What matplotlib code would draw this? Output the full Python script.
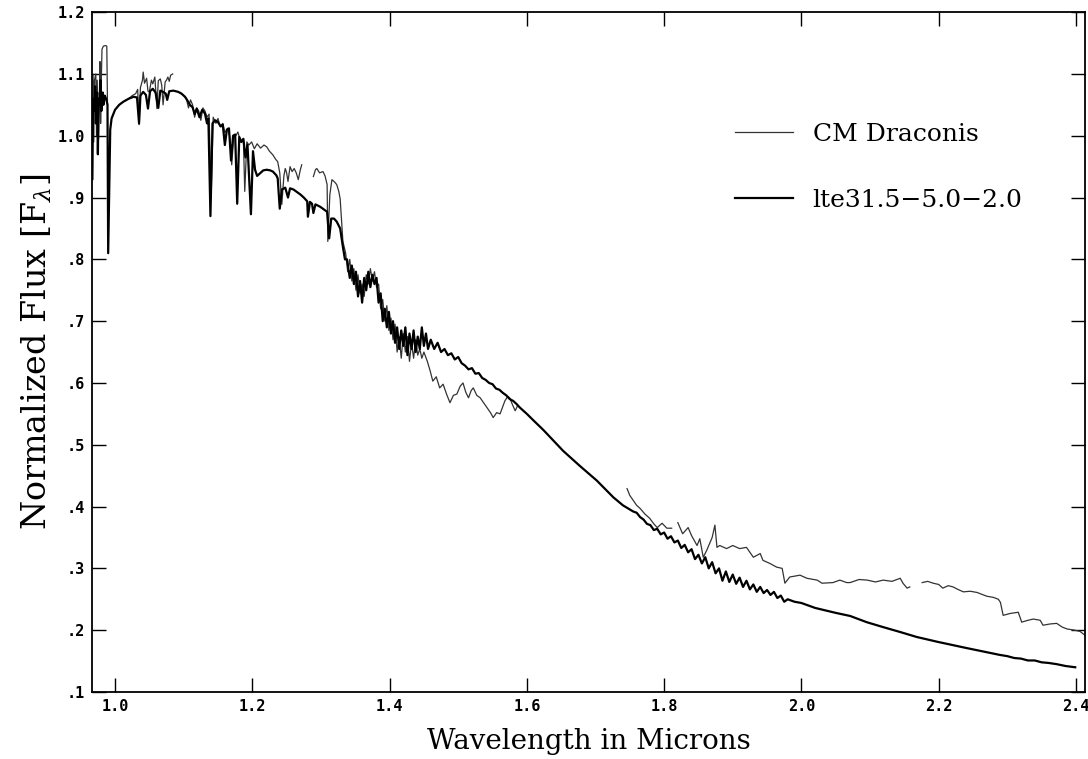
import numpy as np
import matplotlib
matplotlib.use('Agg')
import matplotlib.pyplot as plt

# model spectrum lte31.5-5.0-2.0 (continuous)
model_wl = [0.967, 0.968, 0.970, 0.971, 0.972, 0.974, 0.975, 0.976, 0.978, 0.979, 0.980, 0.982, 0.983, 0.985,
            0.987, 0.989, 0.990, 0.993, 0.995, 1.000, 1.006, 1.012, 1.020, 1.027, 1.032, 1.035, 1.037, 1.041,
            1.045, 1.048, 1.051, 1.055, 1.059, 1.063, 1.066, 1.070, 1.074, 1.076, 1.079, 1.085, 1.092, 1.097,
            1.102, 1.106, 1.109, 1.113, 1.116, 1.119, 1.123, 1.127, 1.131, 1.134, 1.136, 1.139, 1.142, 1.146,
            1.150, 1.154, 1.157, 1.160, 1.163, 1.166, 1.169, 1.172, 1.175, 1.178, 1.181, 1.184, 1.187, 1.190,
            1.193, 1.198, 1.201, 1.204, 1.207, 1.211, 1.216, 1.221, 1.226, 1.230, 1.235, 1.237, 1.240, 1.243,
            1.248, 1.252, 1.255, 1.260, 1.265, 1.270, 1.275, 1.280, 1.281, 1.284, 1.287, 1.289, 1.292, 1.299,
            1.304, 1.309, 1.312, 1.315, 1.319, 1.323, 1.328, 1.332, 1.335,
            1.338, 1.342, 1.345, 1.348, 1.351, 1.354, 1.357, 1.360, 1.363, 1.366, 1.369, 1.372, 1.375, 1.378,
            1.381, 1.384, 1.387, 1.390, 1.393, 1.396, 1.399, 1.402, 1.405, 1.408, 1.411, 1.414, 1.417, 1.420,
            1.423, 1.426, 1.429, 1.432, 1.435, 1.438, 1.441, 1.444, 1.447, 1.450, 1.453, 1.456, 1.460, 1.465,
            1.470, 1.475, 1.480, 1.485, 1.490, 1.495, 1.500, 1.505, 1.510, 1.515, 1.520, 1.525, 1.530, 1.535,
            1.540, 1.545, 1.550, 1.555, 1.560, 1.565, 1.570, 1.575, 1.580, 1.585, 1.590, 1.600, 1.610, 1.624,
            1.653, 1.677, 1.702, 1.726, 1.740, 1.755,
            1.760, 1.765, 1.770, 1.775, 1.780, 1.785, 1.790, 1.795, 1.800, 1.805, 1.810, 1.815, 1.820, 1.825,
            1.830, 1.835, 1.840, 1.845, 1.850, 1.855, 1.860, 1.865, 1.870, 1.875, 1.880, 1.885, 1.890, 1.895,
            1.900, 1.905, 1.910, 1.915, 1.920, 1.925, 1.930, 1.935, 1.940, 1.945, 1.950, 1.955, 1.960, 1.965,
            1.970, 1.975, 1.980, 1.990, 2.000, 2.010, 2.020, 2.035, 2.050, 2.071, 2.095, 2.119, 2.144, 2.168,
            2.199, 2.241, 2.289, 2.300, 2.310, 2.320, 2.330, 2.340, 2.350, 2.360, 2.372, 2.385, 2.399]
model_flux = [0.93, 1.06, 1.04, 1.08, 1.02, 1.07, 0.97, 1.06, 1.05, 1.09, 1.04, 1.07, 1.05, 1.065,
              1.06, 1.05, 0.81, 1.01, 1.028, 1.042, 1.05, 1.055, 1.060, 1.063, 1.062, 1.02, 1.065, 1.071,
              1.066, 1.044, 1.072, 1.076, 1.07, 1.045, 1.073, 1.071, 1.068, 1.058, 1.072, 1.073, 1.071, 1.068,
              1.063, 1.056, 1.05, 1.046, 1.035, 1.044, 1.03, 1.042, 1.036, 1.02, 1.028, 0.87, 1.02, 1.025,
              1.022, 1.015, 1.018, 0.985, 1.01, 1.012, 0.96, 1.0, 1.002, 0.89, 0.998, 0.99, 0.995, 0.965,
              0.985, 0.873, 0.975, 0.945, 0.935, 0.939, 0.944, 0.945, 0.944, 0.942, 0.936, 0.931, 0.882, 0.913,
              0.916, 0.90, 0.915, 0.913, 0.909, 0.905, 0.900, 0.894, 0.869, 0.893, 0.89, 0.875, 0.889, 0.885,
              0.881, 0.877, 0.834, 0.866, 0.866, 0.861, 0.85, 0.82, 0.80,
              0.80, 0.77, 0.79, 0.76, 0.78, 0.74, 0.765, 0.73, 0.77, 0.75, 0.78, 0.755, 0.775, 0.76,
              0.77, 0.73, 0.745, 0.70, 0.72, 0.69, 0.715, 0.68, 0.70, 0.665, 0.69, 0.655, 0.685, 0.66,
              0.69, 0.645, 0.68, 0.655, 0.685, 0.65, 0.675, 0.655, 0.69, 0.66, 0.68, 0.655, 0.67, 0.655,
              0.665, 0.65, 0.655, 0.645, 0.648, 0.638, 0.642, 0.632, 0.628, 0.622, 0.624, 0.615, 0.616, 0.608,
              0.605, 0.600, 0.598, 0.591, 0.589, 0.584, 0.580, 0.574, 0.571, 0.566, 0.560, 0.550, 0.539, 0.524,
              0.490, 0.466, 0.442, 0.415, 0.402, 0.392,
              0.390, 0.383, 0.379, 0.372, 0.370, 0.362, 0.364, 0.355, 0.358, 0.348, 0.352, 0.342, 0.345, 0.333,
              0.338, 0.326, 0.331, 0.315, 0.322, 0.308, 0.318, 0.300, 0.310, 0.292, 0.300, 0.280, 0.295, 0.278,
              0.290, 0.275, 0.285, 0.270, 0.280, 0.266, 0.274, 0.262, 0.270, 0.260, 0.265, 0.257, 0.262, 0.252,
              0.256, 0.246, 0.250, 0.246, 0.244, 0.240, 0.236, 0.232, 0.228, 0.223, 0.213, 0.205, 0.197, 0.189,
              0.181, 0.171, 0.160, 0.158, 0.155, 0.154, 0.151, 0.151, 0.148, 0.147, 0.145, 0.142, 0.140]

# observed CM Draconis spectrum, one list per piece (gaps between them)
obs_wl_1 = [0.967, 0.968, 0.969, 0.970, 0.972, 0.973, 0.974, 0.976, 0.977, 0.978, 0.979, 0.980, 0.981,
            0.983, 0.986, 0.988, 0.989]
obs_flux_1 = [1.0, 1.10, 0.99, 1.09, 1.10, 1.0, 1.09, 0.995, 1.05, 1.12, 1.02, 1.09, 1.14,
              1.145, 1.146, 1.145, 1.05]
obs_wl_2 = [1.020, 1.025, 1.030, 1.033, 1.035, 1.037, 1.040, 1.041, 1.043, 1.046, 1.048, 1.050, 1.053,
            1.055, 1.058, 1.061, 1.063, 1.066, 1.068, 1.070, 1.073, 1.075, 1.077, 1.079, 1.081, 1.084]
obs_flux_2 = [1.06, 1.065, 1.068, 1.075, 1.018, 1.078, 1.09, 1.103, 1.085, 1.093, 1.072, 1.071, 1.09,
              1.084, 1.095, 1.044, 1.089, 1.092, 1.082, 1.05, 1.087, 1.09, 1.095, 1.088, 1.098, 1.10]
obs_wl_3 = [1.095, 1.100, 1.104, 1.107, 1.110, 1.113, 1.116, 1.119, 1.122, 1.125, 1.128, 1.131, 1.134,
            1.137, 1.140, 1.143, 1.147, 1.150, 1.153, 1.157, 1.160, 1.164, 1.167, 1.170, 1.173, 1.176,
            1.179, 1.183, 1.187, 1.189, 1.192, 1.195, 1.199, 1.203, 1.207, 1.212, 1.217, 1.221, 1.225,
            1.230, 1.234, 1.237, 1.240, 1.243, 1.246, 1.248, 1.250, 1.252, 1.255, 1.258, 1.261, 1.264,
            1.267, 1.270, 1.272]
obs_flux_3 = [1.07, 1.065, 1.06, 1.045, 1.058, 1.05, 1.03, 1.045, 1.04, 1.025, 1.045, 1.04, 1.03,
              1.035, 0.90, 1.03, 1.02, 1.028, 1.015, 1.02, 1.005, 1.012, 1.0, 0.953, 1.0, 1.0,
              1.006, 0.99, 0.995, 0.91, 0.99, 0.985, 0.99, 0.979, 0.987, 0.98, 0.985, 0.982, 0.975,
              0.969, 0.962, 0.958, 0.94, 0.889, 0.935, 0.947, 0.94, 0.926, 0.95, 0.942, 0.947, 0.94,
              0.929, 0.945, 0.953]
obs_wl_4 = [1.289, 1.292, 1.294, 1.298, 1.303, 1.306, 1.309, 1.310, 1.313, 1.316, 1.320, 1.323, 1.326,
            1.328, 1.332, 1.336, 1.339, 1.342, 1.345, 1.348, 1.351, 1.354, 1.357, 1.360, 1.363, 1.366,
            1.369, 1.372, 1.375, 1.378, 1.381, 1.384, 1.387, 1.390, 1.393, 1.396, 1.399, 1.402, 1.405,
            1.408, 1.411, 1.414, 1.417, 1.420, 1.423, 1.426, 1.429, 1.432, 1.435, 1.438, 1.441, 1.444,
            1.447, 1.450, 1.455, 1.459, 1.463, 1.468, 1.473, 1.478, 1.483, 1.488, 1.493, 1.498, 1.503,
            1.507, 1.511, 1.515, 1.519, 1.522, 1.527, 1.532, 1.537, 1.542, 1.547, 1.551, 1.556, 1.561,
            1.565, 1.568, 1.572, 1.575, 1.579, 1.583, 1.586]
obs_flux_4 = [0.934, 0.945, 0.947, 0.94, 0.942, 0.935, 0.921, 0.829, 0.905, 0.929, 0.925, 0.921, 0.91,
              0.898, 0.829, 0.81, 0.78, 0.80, 0.765, 0.785, 0.75, 0.775, 0.745, 0.76, 0.74, 0.775,
              0.76, 0.785, 0.765, 0.78, 0.755, 0.76, 0.72, 0.735, 0.70, 0.725, 0.685, 0.705, 0.67,
              0.695, 0.65, 0.675, 0.64, 0.68, 0.65, 0.675, 0.635, 0.665, 0.64, 0.67, 0.645, 0.655,
              0.64, 0.65, 0.635, 0.62, 0.603, 0.61, 0.592, 0.598, 0.582, 0.568, 0.58, 0.582, 0.595,
              0.60, 0.585, 0.576, 0.588, 0.592, 0.58, 0.576, 0.568, 0.56, 0.552, 0.544, 0.552, 0.55,
              0.562, 0.571, 0.578, 0.576, 0.565, 0.555, 0.562]
obs_wl_5 = [1.746, 1.750, 1.755, 1.760, 1.765, 1.772, 1.779, 1.785, 1.790, 1.797, 1.804, 1.811]
obs_flux_5 = [0.429, 0.418, 0.410, 0.402, 0.397, 0.388, 0.381, 0.372, 0.366, 0.373, 0.365, 0.365]
obs_wl_6 = [1.820, 1.827, 1.835, 1.840, 1.848, 1.852, 1.857, 1.862, 1.870, 1.874, 1.877, 1.881, 1.891,
            1.900, 1.910, 1.920, 1.930, 1.940, 1.944, 1.954, 1.964, 1.972, 1.976, 1.983, 1.998, 2.008,
            2.023, 2.030, 2.046, 2.056, 2.066, 2.071, 2.084, 2.096, 2.108, 2.119, 2.132, 2.144, 2.148,
            2.154, 2.158]
obs_flux_6 = [0.374, 0.356, 0.366, 0.353, 0.337, 0.348, 0.318, 0.329, 0.35, 0.37, 0.334, 0.337, 0.332,
              0.337, 0.332, 0.334, 0.318, 0.324, 0.313, 0.308, 0.302, 0.300, 0.276, 0.286, 0.289, 0.284,
              0.281, 0.276, 0.277, 0.281, 0.277, 0.277, 0.282, 0.281, 0.278, 0.281, 0.279, 0.284, 0.276,
              0.268, 0.27]
obs_wl_7 = [2.176, 2.184, 2.192, 2.200, 2.206, 2.214, 2.221, 2.228, 2.236, 2.246, 2.256, 2.263, 2.270,
            2.280, 2.287, 2.290, 2.294, 2.304, 2.316, 2.321, 2.330, 2.338, 2.348, 2.352, 2.362, 2.372,
            2.380, 2.387, 2.398, 2.406, 2.413]
obs_flux_7 = [0.277, 0.279, 0.276, 0.274, 0.268, 0.272, 0.27, 0.266, 0.262, 0.263, 0.261, 0.258, 0.255,
              0.253, 0.25, 0.245, 0.224, 0.227, 0.229, 0.213, 0.216, 0.218, 0.216, 0.208, 0.210, 0.211,
              0.205, 0.202, 0.200, 0.198, 0.192]

xticks = [1.0, 1.2, 1.4, 1.6, 1.8, 2.0, 2.2, 2.4]
xticklabels = ['1.0', '1.2', '1.4', '1.6', '1.8', '2.0', '2.2', '2.4']
yticks = [0.1, 0.2, 0.3, 0.4, 0.5, 0.6, 0.7, 0.8, 0.9, 1.0, 1.1, 1.2]
yticklabels = ['.1', '.2', '.3', '.4', '.5', '.6', '.7', '.8', '.9', '1.0', '1.1', '1.2']

plt.rcParams['mathtext.fontset'] = 'dejavuserif'

fig = plt.figure(figsize=(10.88, 7.59), dpi=100)
ax = fig.add_axes([0.0846, 0.0883, 0.9125, 0.8957])

obs_pieces = [(obs_wl_1, obs_flux_1), (obs_wl_2, obs_flux_2), (obs_wl_3, obs_flux_3), (obs_wl_4, obs_flux_4),
              (obs_wl_5, obs_flux_5), (obs_wl_6, obs_flux_6), (obs_wl_7, obs_flux_7)]
for i, (wl, fl) in enumerate(obs_pieces):
    ax.plot(wl, fl, color='#333333', lw=0.9, label='CM Draconis' if i == 0 else None)
ax.plot(model_wl, model_flux, color='black', lw=1.6, label='lte31.5\u22125.0\u22122.0')

ax.set_xlim(0.9665, 2.413)
ax.set_ylim(0.1, 1.198)
ax.set_xticks(xticks)
ax.set_xticklabels(xticklabels)
ax.set_yticks(yticks)
ax.set_yticklabels(yticklabels)
ax.tick_params(direction='in', length=10, width=1, top=True, right=True, pad=5,
               labelsize=11)
for lab in ax.get_xticklabels() + ax.get_yticklabels():
    lab.set_family('DejaVu Sans Mono')
    lab.set_fontweight('bold')
for s in ax.spines.values():
    s.set_linewidth(1.3)

ax.set_xlabel('Wavelength in Microns', family='DejaVu Serif', fontsize=20, labelpad=10)
ax.set_ylabel(r'Normalized Flux [F$_\lambda$]', family='DejaVu Serif', fontsize=24, labelpad=3)

leg = ax.legend(loc='upper left', bbox_to_anchor=(0.625, 0.87), frameon=False,
                prop={'family': 'DejaVu Serif', 'size': 18}, handlelength=2.3,
                handletextpad=0.8, labelspacing=1.7)

fig.savefig('out.png', dpi=100)
